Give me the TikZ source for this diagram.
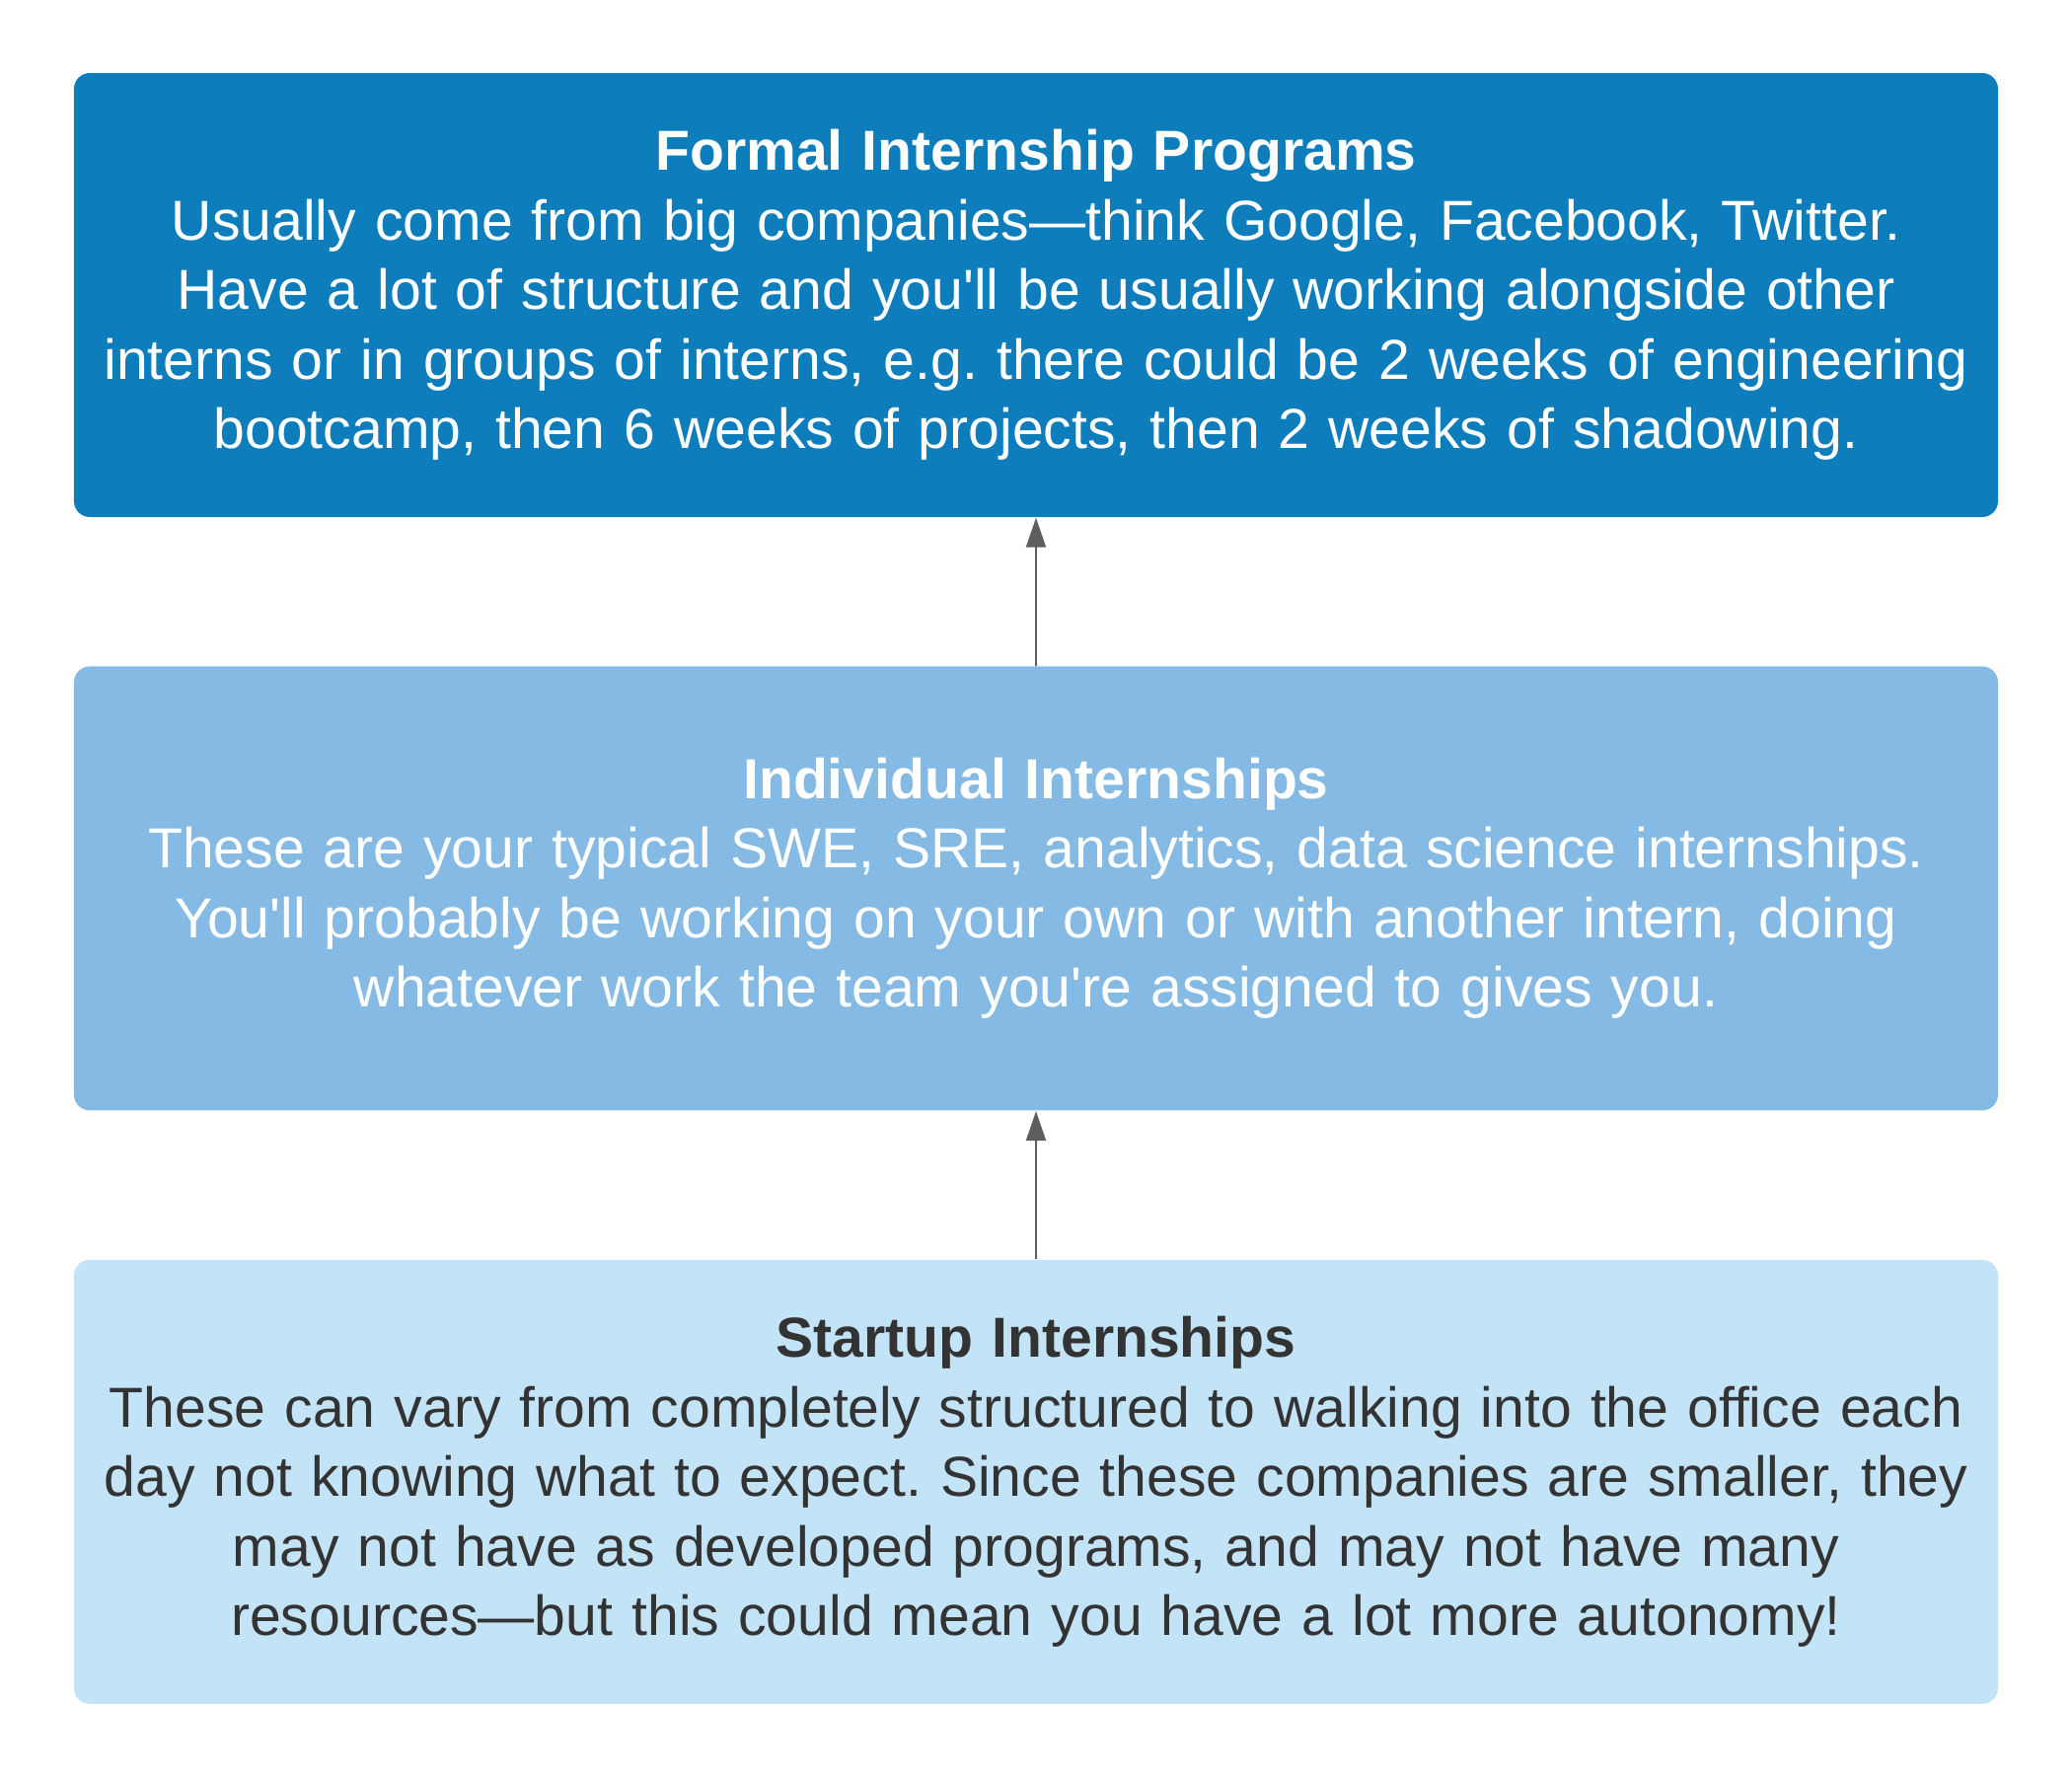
\documentclass[tikz,border=0pt]{standalone}
\usepackage{fontspec}
\setmainfont{Liberation Sans}
\usetikzlibrary{positioning,arrows.meta}
\definecolor{formalblue}{HTML}{0E7DBB}
\definecolor{indivblue}{HTML}{84BAE3}
\definecolor{startupblue}{HTML}{C3E4F6}
\definecolor{darktext}{HTML}{333333}
\definecolor{arrowgray}{HTML}{5E5E5E}
\newcommand{\sq}{\textquotesingle}
\frenchspacing

\begin{document}
\begin{tikzpicture}[
    tier/.style={rectangle, rounded corners=0.16cm, minimum width=19.5cm, minimum height=4.5cm, text width=19.5cm, inner sep=0pt, align=center, font=\fontsize{16.25pt}{20.06pt}\selectfont},
    climb/.style={-{Triangle[length=0.3cm, width=0.2cm]}, arrowgray, line width=0.02cm}
  ]
      \useasboundingbox (0,0) rectangle (21,-18);
      \node[tier, fill=formalblue, text=white] (formal) at (10.5,-2.99) {\textbf{Formal Internship Programs}\\
        Usually come from big companies---think Google, Facebook, Twitter.\\
        Have a lot of structure and you\sq ll be usually working alongside other\\
        interns or in groups of interns, e.g. there could be 2 weeks of engineering\\
        bootcamp, then 6 weeks of projects, then 2 weeks of shadowing.};
      \node[tier, fill=indivblue, text=white, below=1.5cm of formal] (indiv) {\textbf{Individual Internships}\\
        These are your typical SWE, SRE, analytics, data science internships.\\
        You\sq ll probably be working on your own or with another intern, doing\\
        whatever work the team you\sq re assigned to gives you.};
      \node[tier, fill=startupblue, text=darktext, below=1.5cm of indiv] (startup) {\textbf{Startup Internships}\\
        These can vary from completely structured to walking into the office each\\
        day not knowing what to expect. Since these companies are smaller, they\\
        may not have as developed programs, and may not have many\\
        resources---but this could mean you have a lot more autonomy!};
      %
      \draw[climb] (startup.north) -- (indiv.south);
      \draw[climb] (indiv.north) -- (formal.south);
\end{tikzpicture}
\end{document}
